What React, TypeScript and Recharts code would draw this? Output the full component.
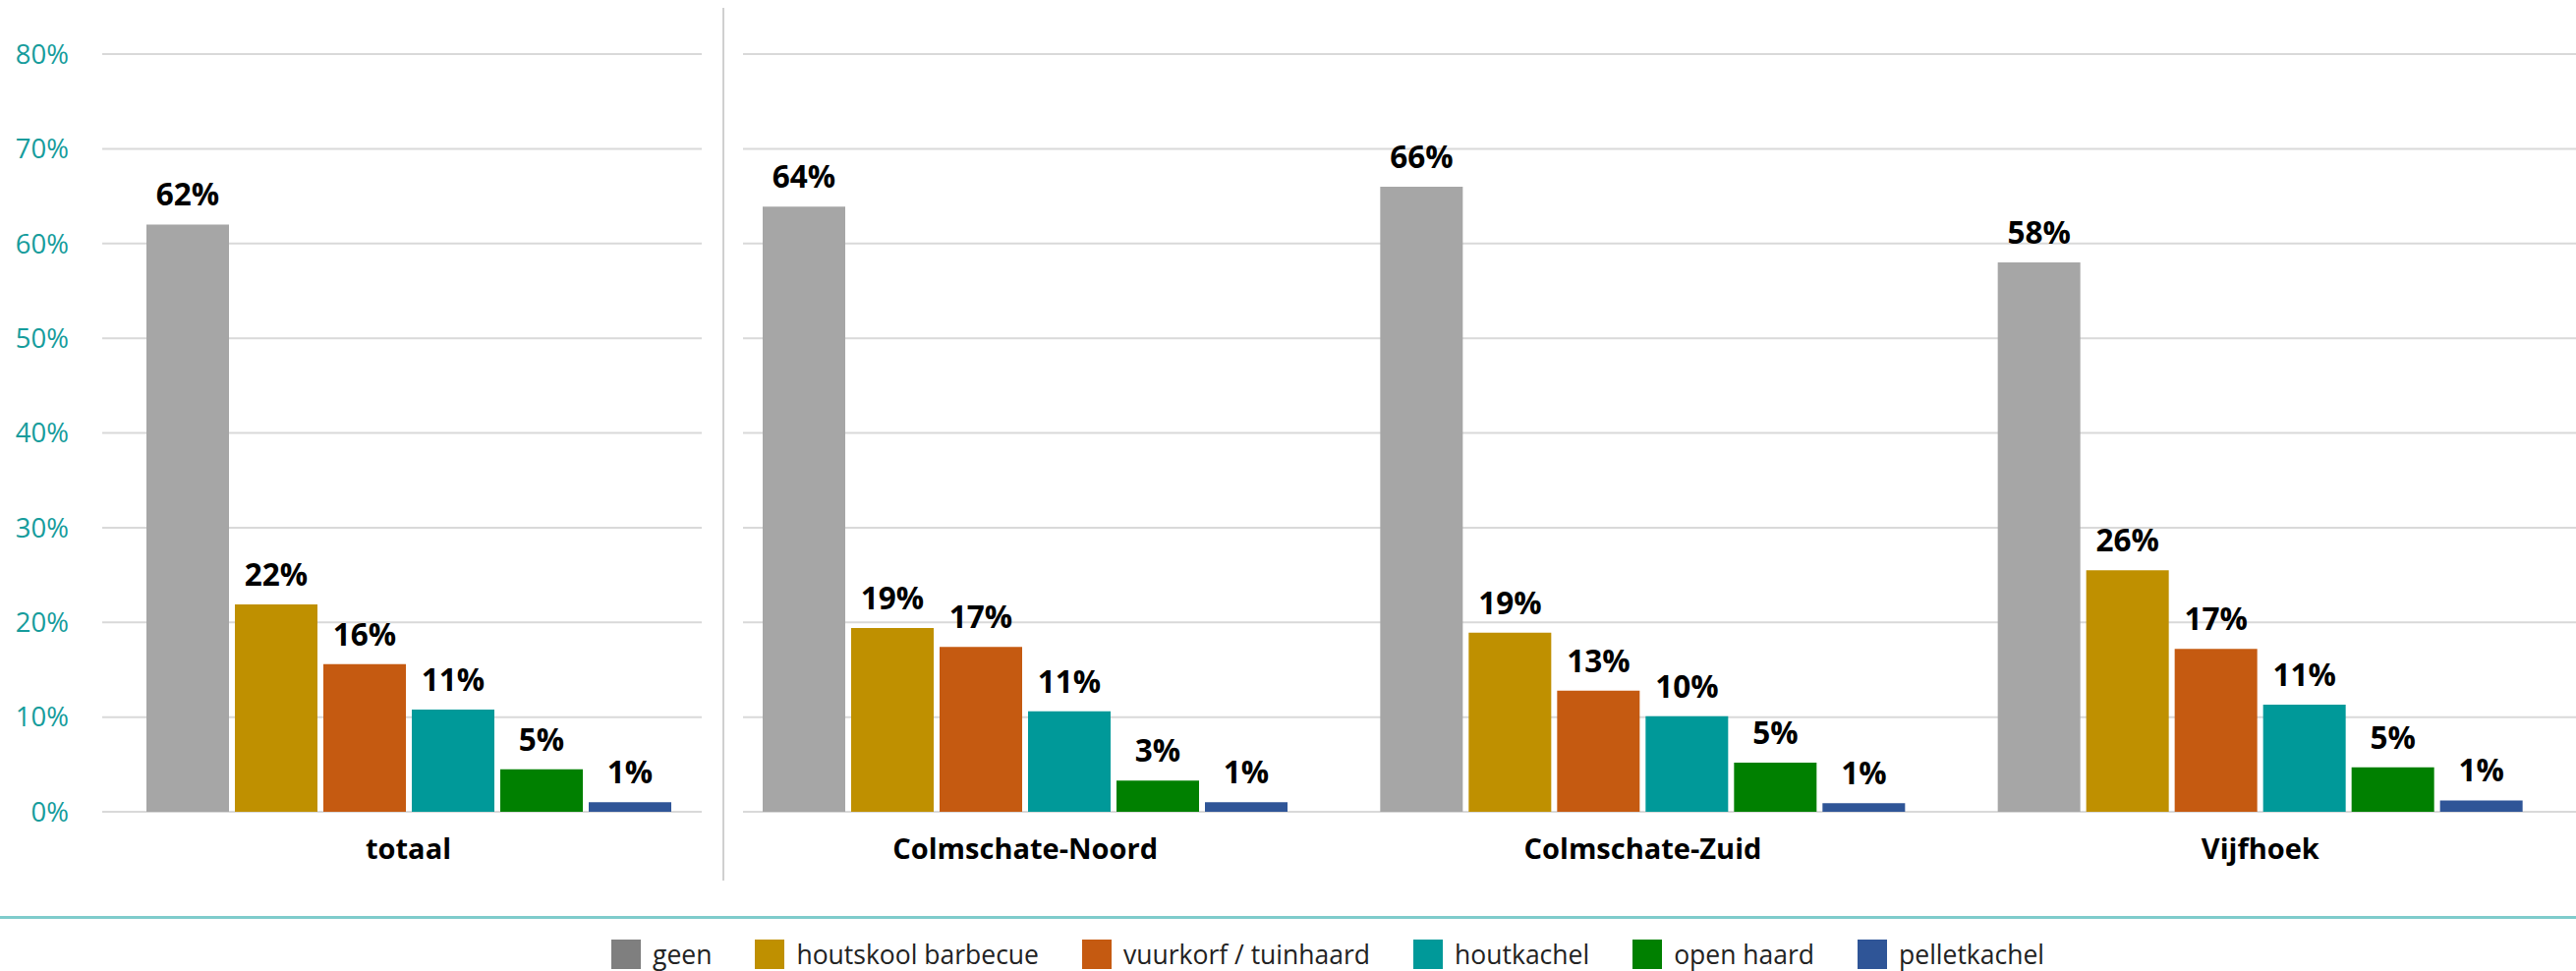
import { BarChart, Bar, XAxis, YAxis, CartesianGrid, LabelList, Legend } from 'recharts';

const categories = ['totaal', 'Colmschate-Noord', 'Colmschate-Zuid', 'Vijfhoek'];
const yTicks = [0, 10, 20, 30, 40, 50, 60, 70, 80];

const geen = [62.0, 63.9, 66.0, 58.0];
const houtskoolBarbecue = [21.9, 19.4, 18.9, 25.5];
const vuurkorf = [15.6, 17.4, 12.8, 17.2];
const houtkachel = [10.8, 10.6, 10.1, 11.3];
const openHaard = [4.5, 3.3, 5.2, 4.7];
const pelletkachel = [1.0, 1.0, 0.9, 1.2];

const series = [
  { key: 'geen', label: 'geen', values: geen, color: '#a6a6a6', swatch: '#7f7f7f' },
  { key: 'houtskool', label: 'houtskool barbecue', values: houtskoolBarbecue, color: '#bf9000', swatch: '#bf9000' },
  { key: 'vuurkorf', label: 'vuurkorf / tuinhaard', values: vuurkorf, color: '#c55a11', swatch: '#c55a11' },
  { key: 'houtkachel', label: 'houtkachel', values: houtkachel, color: '#009999', swatch: '#009999' },
  { key: 'openhaard', label: 'open haard', values: openHaard, color: '#008000', swatch: '#008000' },
  { key: 'pellet', label: 'pelletkachel', values: pelletkachel, color: '#2f5597', swatch: '#2f5597' },
];

const rows = categories.map((name, i) => {
  const row: Record<string, string | number> = { name };
  series.forEach((s) => {
    row[s.key] = s.values[i];
  });
  return row;
});

const FONT = '"Open Sans", sans-serif';
const GRID = '#d9d9d9';

function gridLine(shiftLeft: number, shiftRight: number) {
  return (p: any) => {
    const { key, x1, x2, y1, y2 } = p;
    return (
      <line key={key} x1={x1 - shiftLeft} x2={x2 + shiftRight} y1={y1} y2={y2} stroke={GRID} strokeWidth={2} />
    );
  };
}

function LegendContent() {
  return (
    <div style={{ display: 'flex', alignItems: 'center', fontFamily: FONT, fontSize: 26.5, color: '#222' }}>
      {series.map((s) => (
        <div key={s.key} style={{ display: 'flex', alignItems: 'center', marginRight: 44 }}>
          <span style={{ width: 30, height: 30, background: s.swatch, display: 'inline-block', marginRight: 12 }} />
          <span>{s.label}</span>
        </div>
      ))}
    </div>
  );
}

function Bars() {
  return series.map((s) => (
    <Bar key={s.key} dataKey={s.key} name={s.label} fill={s.color} barSize={84} isAnimationActive={false}>
      <LabelList
        dataKey={s.key}
        position="top"
        offset={19}
        formatter={(v: any) => `${Math.round(Number(v))}%`}
        fill="#000"
        fontSize={31.5}
        fontWeight={700}
        fontFamily={FONT}
      />
    </Bar>
  ));
}

export default function App() {
  const xTick = { fontSize: 29, fontWeight: 700, fill: '#000', fontFamily: FONT };
  return (
    <div style={{ position: 'absolute', left: 0, top: 0, width: 2621, height: 988, background: '#fff', fontFamily: FONT }}>
      <div style={{ position: 'absolute', left: 0, top: 0 }}>
        <BarChart width={736} height={900} data={rows.slice(0, 1)} margin={{ top: 55, right: 22, bottom: 14, left: 0 }} barGap={6}>
          <CartesianGrid vertical={false} horizontal={gridLine(13, 0)} />
          <YAxis
            domain={[0, 80]}
            ticks={yTicks}
            width={117}
            tickLine={false}
            axisLine={false}
            tickMargin={41}
            tickFormatter={(v) => `${v}%`}
            tick={{ fontSize: 27.5, fill: '#169c9c', fontFamily: FONT }}
          />
          <XAxis dataKey="name" tickLine={false} axisLine={false} height={60} tickMargin={21} tick={xTick} />
          <Legend
            layout="horizontal"
            verticalAlign="middle"
            align="center"
            content={<LegendContent />}
            wrapperStyle={{ position: 'absolute', left: 622, top: 953, width: 1800 }}
          />
          {Bars()}
        </BarChart>
      </div>
      <div style={{ position: 'absolute', left: 720, top: 0 }}>
        <BarChart width={1901} height={900} data={rows.slice(1)} margin={{ top: 55, right: 7, bottom: 14, left: 9 }} barGap={6}>
          <CartesianGrid vertical={false} horizontal={gridLine(-27, 7)} />
          <YAxis hide domain={[0, 80]} ticks={yTicks} />
          <XAxis dataKey="name" tickLine={false} axisLine={false} height={60} tickMargin={21} tick={xTick} />
          {Bars()}
        </BarChart>
      </div>
      <div style={{ position: 'absolute', left: 735, top: 8, width: 2, height: 888, background: '#d0d0d0' }} />
      <div style={{ position: 'absolute', left: 0, top: 932, width: 2621, height: 3, background: '#7fcccc' }} />
    </div>
  );
}
